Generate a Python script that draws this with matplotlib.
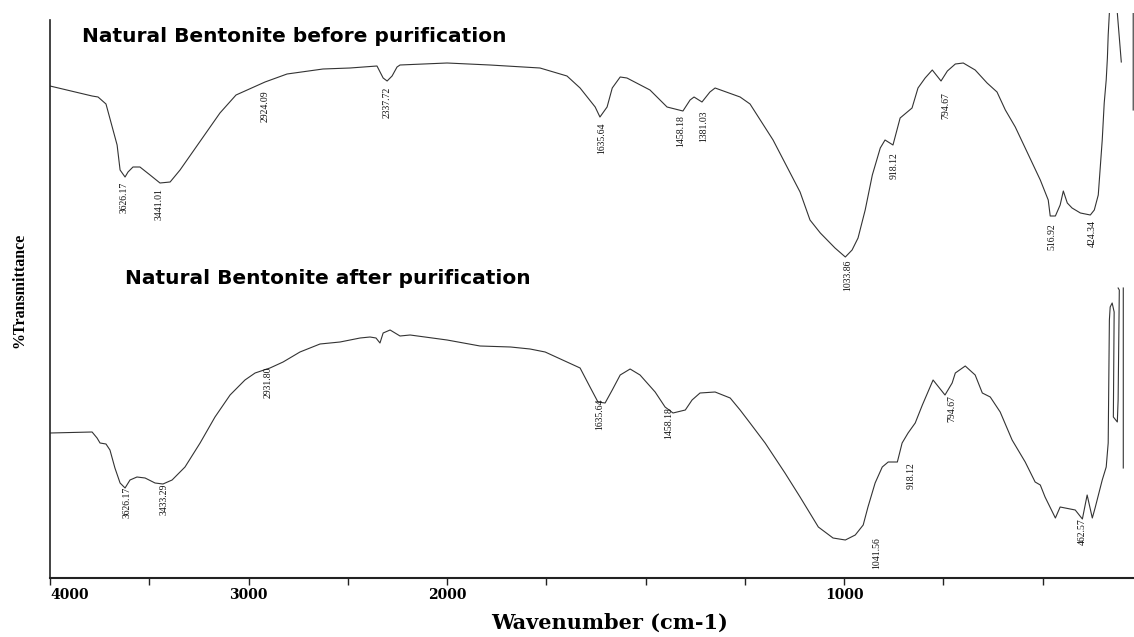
import numpy as np
import matplotlib
matplotlib.use("Agg")
import matplotlib.pyplot as plt

# FTIR spectra (wavenumber cm-1, transmittance in arbitrary units)
before_wn = [4000, 3788, 3758, 3718, 3662, 3647, 3622, 3607, 3582, 3547, 3496, 3446, 3395, 3345,
             3144, 3063, 2917, 2806, 2625, 2489, 2353, 2322, 2302, 2277, 2252, 2237, 2000, 1892,
             1766, 1698, 1665, 1627, 1615, 1597, 1584, 1564, 1547, 1489, 1446, 1406, 1388, 1378,
             1358, 1338, 1325, 1262, 1237, 1179, 1111, 1086, 1060, 1023, 997, 980, 965, 947, 929,
             909, 897, 877, 859, 829, 814, 796, 778, 756, 740, 720, 700, 670, 640, 615, 594, 569,
             544, 506, 486, 481, 468, 456, 448, 438, 426, 405, 380, 370, 360, 350, 345, 340, 337,
             335, 330, 315, 312, 302, np.nan, 272, 272]
before_t = [492, 482, 481, 474, 433, 408, 401, 406, 411, 411, 403, 395, 396, 408,
            465, 483, 496, 504, 509, 510, 512, 500, 497, 502, 511, 513, 515, 513,
            510, 502, 490, 471, 461, 471, 490, 501, 500, 488, 471, 467, 478, 481,
            476, 486, 490, 481, 474, 438, 386, 358, 345, 330, 321, 328, 340, 368, 403,
            430, 438, 433, 460, 470, 490, 500, 508, 497, 507, 514, 515, 508, 495, 486, 468, 451,
            430, 398, 378, 362, 362, 373, 387, 375, 370, 365, 363, 368, 383, 438, 475, 498, 520,
            543, 580, 580, 565, 516, np.nan, 580, 468]

after_wn = [4000, 3788, 3763, 3748, 3718, 3698, 3673, 3647, 3622, 3597, 3562, 3521, 3471, 3431,
            3385, 3320, 3244, 3169, 3093, 3018, 2967, 2892, 2826, 2741, 2640, 2539, 2438, 2388,
            2358, 2338, 2322, 2287, 2262, 2237, 2186, 2000, 1917, 1840, 1791, 1753, 1698, 1665,
            1640, 1620, 1602, 1584, 1564, 1539, 1514, 1476, 1451, 1431, 1400, 1383, 1363, 1325,
            1287, 1262, 1237, 1199, 1149, 1111, 1065, 1028, 997, 972, 952, 940, 922, 904, 889,
            866, 854, 839, 821, 803, 776, 766, 746, 728, 720, 695, 670, 652, 632, 607, 577, 544,
            519, 506, 494, 468, 456, 418, 400, 388, 375, 368, 350, 340, 335, 332, 330, 325, 320,
            322, 312, 310, 307, 310, np.nan, 297, 297]
after_t = [145, 146, 140, 135, 134, 128, 110, 95, 90, 98, 101, 100, 95, 94,
           98, 111, 135, 161, 183, 198, 205, 210, 216, 226, 234, 236, 240, 241,
           240, 235, 245, 248, 245, 242, 243, 238, 232, 231, 229, 226, 216, 210,
           191, 176, 175, 188, 203, 209, 203, 186, 171, 165, 168, 178, 185, 186,
           180, 168, 155, 135, 105, 81, 51, 40, 38, 43, 53, 71, 95, 111, 116,
           116, 135, 145, 155, 173, 198, 193, 183, 195, 205, 212, 203, 185, 181, 166, 138, 116,
           96, 93, 81, 60, 71, 68, 59, 83, 60, 70, 98, 111, 135, 258, 271, 275, 266,
           161, 156, 178, 288, 290, np.nan, 290, 110]

# peak labels: wavenumber position, top of text, text
before_lab_wn = [3627, 3451, 2917, 2302, 1610, 1411, 1353, 990, 874, 743, 476, 375]
before_lab_t = [396, 390, 488, 491, 456, 463, 468, 318, 426, 486, 355, 358]
before_lab = ["3626.17", "3441.01", "2924.09", "2337.72", "1635.64", "1458.18", "1381.03",
              "1033.86", "918.12", "794.67", "516.92", "424.34"]

after_lab_wn = [3612, 3426, 2902, 1615, 1441, 917, 831, 728, 400]
after_lab_t = [91, 94, 211, 180, 171, 41, 116, 183, 60]
after_lab = ["3626.17", "3433.29", "2931.80", "1635.64", "1458.18", "1041.56", "918.12",
             "794.67", "462.57"]

major_ticks = [4000, 3000, 2000, 1000]
minor_ticks = [3500, 2500, 1750, 1500, 1250, 750, 500]


def fwd(w):
    w = np.asarray(w, dtype=float)
    return np.where(w > 2000, 2000 + (w - 2000) / 2, w)


def inv(u):
    u = np.asarray(u, dtype=float)
    return np.where(u > 2000, 2000 + 2 * (u - 2000), u)


W, H = 1134, 637
fig = plt.figure(figsize=(W / 100, H / 100), dpi=100)
ax = fig.add_axes([50 / W, 1 - 578 / H, 1 - 50 / W, (578 - 13) / H])

line_kw = dict(color="#333333", lw=0.8)
ax.plot(before_wn, before_t, **line_kw)
ax.plot(after_wn, after_t, **line_kw)

ax.set_xscale("function", functions=(fwd, inv))
ax.set_xlim(4000, 270)
ax.set_ylim(0, 565)

lab_kw = dict(rotation=90, ha="center", va="top", fontsize=7, family="Liberation Serif",
              color="#111111")
for x, y, s in zip(before_lab_wn, before_lab_t, before_lab):
    ax.text(x, y, s, **lab_kw)
for x, y, s in zip(after_lab_wn, after_lab_t, after_lab):
    ax.text(x, y, s, **lab_kw)

for side in ["top", "right"]:
    ax.spines[side].set_visible(False)
ax.spines["left"].set_bounds(0, 558)
ax.spines["left"].set_linewidth(1.2)
ax.spines["bottom"].set_linewidth(1.5)
ax.spines["left"].set_color("#222222")
ax.spines["bottom"].set_color("#222222")

ax.set_yticks([])
ax.set_xticks(major_ticks)
ax.set_xticks(minor_ticks, minor=True)
ax.set_xticklabels([str(t) for t in major_ticks], fontsize=10, fontweight="bold",
                   family="DejaVu Serif")
ax.tick_params(axis="x", which="both", direction="out", length=5, width=1, pad=2,
               color="#222222")
ax.get_xticklabels()[0].set_ha("left")

fig.text(82 / W, 1 - 37 / H, "Natural Bentonite before purification", fontsize=14.5,
         fontweight="bold", family="DejaVu Sans", va="center", ha="left")
fig.text(125 / W, 1 - 279 / H, "Natural Bentonite after purification", fontsize=14.5,
         fontweight="bold", family="DejaVu Sans", va="center", ha="left")

fig.text(19 / W, 1 - 290 / H, "%Transmittance", rotation=90, fontsize=11.5,
         fontweight="bold", family="Liberation Serif", va="center", ha="center")
fig.text(610 / W, 1 - 623 / H, "Wavenumber (cm-1)", fontsize=15, fontweight="bold",
         family="DejaVu Serif", va="center", ha="center")

fig.savefig("out.png", dpi=100)
